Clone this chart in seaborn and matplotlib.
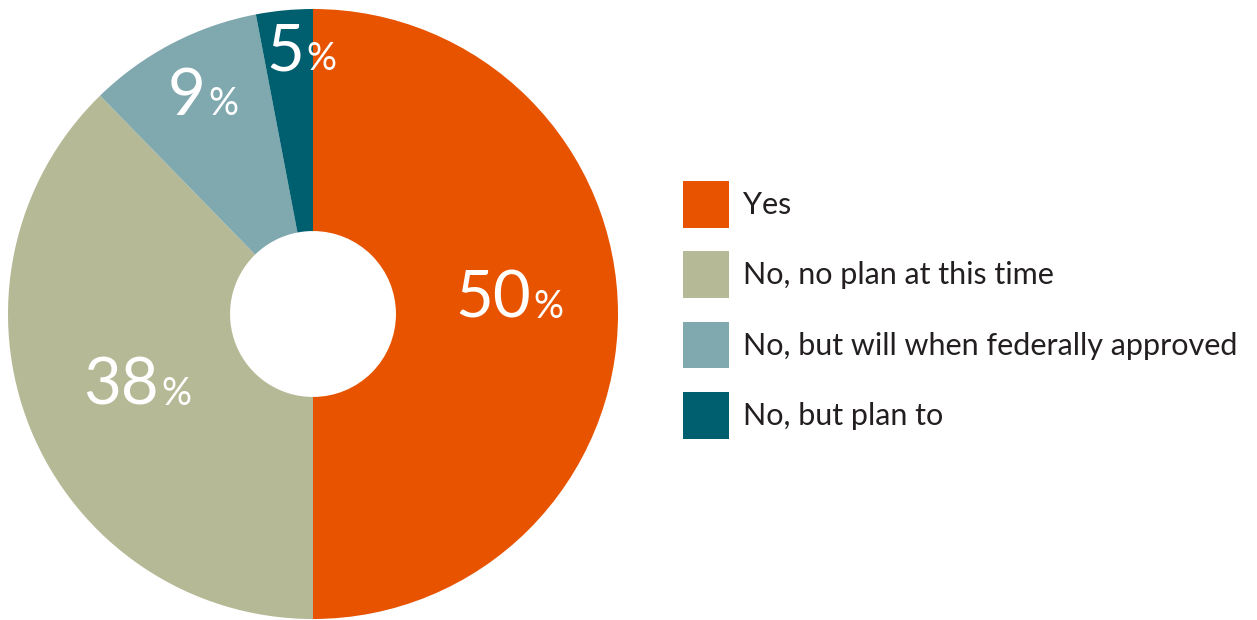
import numpy as np
import matplotlib
matplotlib.use("Agg")
import matplotlib.pyplot as plt
import matplotlib.patches as mpatches
import seaborn as sns

categories = ["Yes", "No, no plan at this time",
              "No, but will when federally approved", "No, but plan to"]
shares = [50.0, 37.7, 9.3, 3.0]
labels = ["50", "38", "9", "5"]
colors = ["#E85300", "#B5B995", "#80A8AF", "#005F6F"]

sns.set_theme(style="white")
plt.rcParams["font.family"] = ["Lato", "DejaVu Sans"]

fig = plt.figure(figsize=(12.57, 6.2), dpi=100)
ax = fig.add_axes([8 / 1257, 1 / 620, 610 / 1257, 610 / 620])

wedges, _ = ax.pie(shares, colors=colors, startangle=90, counterclock=False,
                   wedgeprops=dict(width=1 - 0.272, edgecolor="none"))
ax.set_xlim(-1, 1)
ax.set_ylim(-1, 1)
ax.set_aspect("equal")
ax.axis("off")

# label placement: radius fraction and angular nudge from the wedge middle
label_r = [0.715, 0.586, 0.741, 0.80]
label_nudge = [-1.0, 8.4, 0.8, -3.3]
for w, lab, r, dn in zip(wedges, labels, label_r, label_nudge):
    ang = np.deg2rad((w.theta1 + w.theta2) / 2 + dn)
    x, y = r * np.cos(ang), r * np.sin(ang)
    ax.text(x, y, lab, ha="right", va="baseline", color="white", fontsize=47)
    ax.text(x + 0.008, y, "%", ha="left", va="baseline", color="white", fontsize=27)

handles = [mpatches.Patch(facecolor=c, edgecolor="none") for c in colors]
fig.legend(handles, categories, loc="upper left",
           bbox_to_anchor=(683 / 1257, 1 - 181 / 620), frameon=False,
           fontsize=22, handlelength=1.52, handleheight=1.98,
           handletextpad=0.45, labelspacing=0.77, borderpad=0,
           borderaxespad=0, labelcolor="#231F20")

fig.savefig("out.png", dpi=100)
